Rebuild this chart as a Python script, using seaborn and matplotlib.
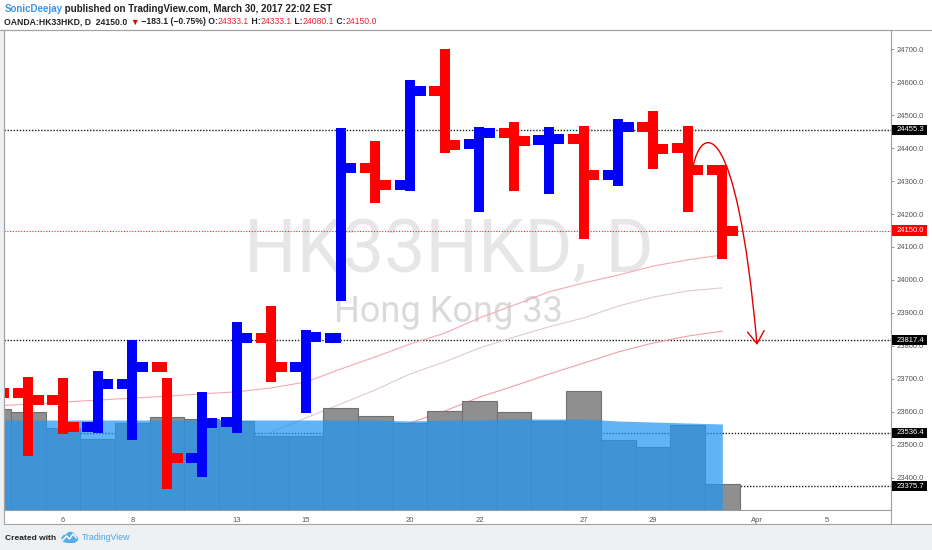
import matplotlib
matplotlib.use("Agg")
import numpy as np
import pandas as pd
import matplotlib.pyplot as plt
import seaborn as sns
from matplotlib.path import Path
from matplotlib.patches import FancyArrowPatch, Rectangle, Circle
from matplotlib.transforms import blended_transform_factory

# ---------------- data ----------------
session_dates = list(pd.bdate_range("2017-03-02", "2017-04-07").strftime("%Y-%m-%d"))
bar_dates = ["2017-03-02", "2017-03-03", "2017-03-06", "2017-03-07", "2017-03-08", "2017-03-09",
             "2017-03-10", "2017-03-13", "2017-03-14", "2017-03-15", "2017-03-16", "2017-03-17",
             "2017-03-20", "2017-03-21", "2017-03-22", "2017-03-23", "2017-03-24", "2017-03-27",
             "2017-03-28", "2017-03-29", "2017-03-30", "2017-03-31"]
opens = [23690, 23658, 23636, 23555, 23685, 23736, 23461, 23570, 23824, 23736, 23824,
         24339, 24288, 24573, 24412, 24445, 24424, 24427, 24318, 24464, 24400, 24333.1]
highs = [23720, 23691, 23688, 23709, 23803, 23688, 23646, 23858, 23906, 23833, 24446,
         24406, 24591, 24685, 24449, 24464, 24449, 24452, 24473, 24497, 24452, 24333.1]
lows = [23620, 23482, 23548, 23551, 23530, 23382, 23418, 23551, 23706, 23612, 23951,
        24248, 24285, 24400, 24221, 24285, 24276, 24139, 24300, 24351, 24221, 24080.1]
closes = [23658, 23636, 23555, 23685, 23736, 23461, 23567, 23824, 23736, 23827, 24339,
          24288, 24573, 24409, 24445, 24421, 24426, 24318, 24464, 24397, 24333.1, 24150.0]
volumes = [101, 98, 82, 71, 87, 93, 91, 89, 74, 74, 102, 94, 87, 99, 109, 98, 89, 119, 70, 63, 85, 26]
volume_ma = [90, 90, 90, 90, 90, 90, 90, 90, 90, 90, 90, 90, 89, 90, 90, 91, 91, 91, 89, 88, 87, 86]
ma_fast = [23618, 23624, 23630, 23636, 23642, 23648, 23655, 23661, 23673, 23691, 23730,
           23767, 23806, 23839, 23885, 23924, 23964, 23991, 24015, 24042, 24061, 24076]
ma_mid = [23424, 23430, 23439, 23448, 23461, 23470, 23485, 23506, 23539, 23582, 23624,
          23667, 23715, 23752, 23794, 23827, 23858, 23885, 23921, 23948, 23967, 23976]
ma_slow = [23376, 23382, 23388, 23394, 23400, 23406, 23415, 23424, 23433, 23452, 23479,
           23521, 23567, 23603, 23645, 23679, 23715, 23748, 23782, 23809, 23830, 23845]
level_lines = [24455.3, 23817.4, 23536.4, 23375.7]
last_price = 24150.0
price_ticks = [23400, 23500, 23600, 23700, 23800, 23900, 24000, 24100, 24200, 24300,
               24400, 24500, 24600, 24700]
time_tick_dates = ["2017-03-06", "2017-03-08", "2017-03-13", "2017-03-15", "2017-03-20",
                   "2017-03-22", "2017-03-27", "2017-03-29", "2017-04-03", "2017-04-05"]
time_tick_labels = ["6", "8", "13", "15", "20", "22", "27", "29", "Apr", "5"]
# hand-drawn arrow anchor points (session index, price)
arrow_pts = [(20.16, 24345), (20.40, 24470), (21.40, 24505), (22.0, 23803)]

# ---------------- layout ----------------
W, H = 932, 550
sns.set_style("white")
FAM = ['Liberation Sans', 'DejaVu Sans']
plt.rcParams['font.family'] = FAM

fig = plt.figure(figsize=(W / 100, H / 100), dpi=100, facecolor='#eef1f4')


def fx(px):
    return px / W


def fy(py):
    return 1 - py / H


fig.patches.append(Rectangle((0, fy(29)), 1, 29 / H, transform=fig.transFigure,
                             facecolor='white', edgecolor='none', zorder=-5))
fig.patches.append(Rectangle((fx(4), fy(524)), 1 - fx(4), (524 - 29) / H, transform=fig.transFigure,
                             facecolor='white', edgecolor='none', zorder=-5))
FRAME = '#a3a3a3'
fig.lines.append(plt.Line2D([0, 1], [fy(29.5), fy(29.5)], transform=fig.transFigure, color=FRAME, lw=0.8))
fig.lines.append(plt.Line2D([fx(4), 1], [fy(524), fy(524)], transform=fig.transFigure, color=FRAME, lw=0.8))
fig.lines.append(plt.Line2D([fx(4), fx(4)], [fy(524), fy(29.5)], transform=fig.transFigure, color=FRAME, lw=0.8))
fig.lines.append(plt.Line2D([fx(891), fx(891)], [fy(524), fy(510)], transform=fig.transFigure, color=FRAME, lw=0.8))

rect = [fx(4), fy(510), fx(891) - fx(4), (510 - 30) / H]
ax_bg = fig.add_axes(rect)
ax_vol = fig.add_axes(rect)
ax = fig.add_axes(rect)

pos = np.array([session_dates.index(d) for d in bar_dates], dtype=float)
XLIM = (0.30, 25.86)
YLIM = (23303.0, 24757.6)

# ---- background layer: levels, MAs, watermark ----
ax_bg.set_facecolor('white')
for lvl in level_lines:
    ax_bg.axhline(lvl, color='#1e1e1e', lw=1.0, linestyle=(0, (1, 1.2)), zorder=1)
ax_bg.axhline(last_price, color='#ff2020', lw=0.8, linestyle=(0, (1, 1.5)), zorder=1)
sns.lineplot(x=pos, y=ma_fast, ax=ax_bg, color='#f5a8b3', linewidth=0.8, zorder=2)
sns.lineplot(x=pos, y=ma_mid, ax=ax_bg, color='#dccbd0', linewidth=0.8, zorder=2)
sns.lineplot(x=pos, y=ma_slow, ax=ax_bg, color='#f29ea9', linewidth=0.8, zorder=2)
ax_bg.text(0.501, 0.494, "HK33HKD, D", transform=ax_bg.transAxes, ha='center', va='baseline',
           fontsize=53, family=['Roboto', 'DejaVu Sans'], color='#e6e6e6', zorder=0)
ax_bg.text(0.501, 0.392, "Hong Kong 33", transform=ax_bg.transAxes, ha='center', va='baseline',
           fontsize=26, family=['Roboto', 'DejaVu Sans'], color='#dadada', zorder=0)
ax_bg.set_xlim(*XLIM)
ax_bg.set_ylim(*YLIM)
ax_bg.set_xticks([])
ax_bg.set_yticks([])
ax_bg.set_xlabel("")
ax_bg.set_ylabel("")
for s in ax_bg.spines.values():
    s.set_visible(False)

# ---- volume layer ----
vol_df = pd.DataFrame({'pos': pos, 'volume': volumes})
sns.barplot(data=vol_df, x='pos', y='volume', native_scale=True, orient='x', width=1.0,
            color='#8f8f8f', saturation=1, edgecolor='#707070', linewidth=0.8,
            errorbar=None, ax=ax_vol)
ax_vol.fill_between(pos, 0, volume_ma, color='#2196f3', alpha=0.72, linewidth=0, zorder=3)
ax_vol.set_xlim(*XLIM)
ax_vol.set_ylim(0, 480)
ax_vol.axis('off')
ax_vol.patch.set_alpha(0)

# ---- price bars ----
ax.patch.set_alpha(0)
bar_colors = ['#0000ff' if c >= o else '#ff0000' for o, c in zip(opens, closes)]
BAR_LW = 7.2
TICK = 0.447
vl = ax.vlines(pos, lows, highs, colors=bar_colors, linewidth=BAR_LW, zorder=3)
vl.set_capstyle('projecting')
ax.hlines(opens, pos - TICK, pos, colors=bar_colors, linewidth=BAR_LW, zorder=3)
ax.hlines(closes, pos, pos + TICK, colors=bar_colors, linewidth=BAR_LW, zorder=3)

arrow_path = Path(arrow_pts, [Path.MOVETO, Path.CURVE4, Path.CURVE4, Path.CURVE4])
ax.add_patch(FancyArrowPatch(path=arrow_path, arrowstyle='->,head_length=0.45,head_width=0.3',
                             mutation_scale=20, color='#e00000', lw=1.0, zorder=5))

ax.set_xlim(*XLIM)
ax.set_ylim(*YLIM)
ax.yaxis.tick_right()
ax.set_yticks(price_ticks)
ax.set_yticklabels([f"{t:.1f}" for t in price_ticks])
ax.set_xticks([session_dates.index(d) for d in time_tick_dates])
ax.set_xticklabels(time_tick_labels)
ax.tick_params(axis='y', length=2.2, width=0.7, color='#9c9c9c', labelsize=5.5,
               labelcolor='#555555', pad=2)
ax.tick_params(axis='x', length=2.2, width=0.7, color='#9c9c9c', labelsize=5.5,
               labelcolor='#555555', pad=2.6)
for s in ax.spines.values():
    s.set_color('#9c9c9c')
    s.set_linewidth(0.8)

# price labels on the right axis
blend = blended_transform_factory(ax.transAxes, ax.transData)
half = 15.2
for lvl, fc in [(l, '#000000') for l in level_lines] + [(last_price, '#ff0000')]:
    ax.add_patch(Rectangle((1.0011, lvl - half), 0.0395, 2 * half, transform=blend,
                           facecolor=fc, edgecolor='none', clip_on=False, zorder=10))
    ax.text(1.0068, lvl, f"{lvl:.1f}", transform=blend, ha='left', va='center',
            fontsize=5.5, color='white', clip_on=False, zorder=11)

# ---------------- header / footer ----------------
renderer = fig.canvas.get_renderer()


def text_width(s, size, weight):
    if not s:
        return 0.0
    t1 = fig.text(0, 0, s + "x", fontsize=size, fontweight=weight, family=FAM)
    t2 = fig.text(0, 0, "x", fontsize=size, fontweight=weight, family=FAM)
    w = t1.get_window_extent(renderer).width - t2.get_window_extent(renderer).width
    t1.remove()
    t2.remove()
    return w


def draw_segments(x_px, y_px, segs, size):
    x = x_px
    for s, col, weight in segs:
        fig.text(fx(x), fy(y_px), s, color=col, fontsize=size, fontweight=weight,
                 family=FAM, ha='left', va='baseline')
        x += text_width(s, size, weight)


DARK = '#222222'
RED = '#e8262b'
draw_segments(4.5, 11.5, [("SonicDeejay", '#3b95e6', 'bold'),
                          (" published on TradingView.com, March 30, 2017 22:02 EST", DARK, 'bold')],
              7.0)
draw_segments(4.5, 24.5, [("OANDA:HK33HKD, D  24150.0 ", DARK, 'bold'), ("\u25bc", '#c01010', 'normal'),
                          (" \u2212183.1 (\u22120.75%) O:", DARK, 'bold'), ("24333.1", RED, 'normal'),
                          (" H:", DARK, 'bold'), ("24333.1", RED, 'normal'),
                          (" L:", DARK, 'bold'), ("24080.1", RED, 'normal'),
                          (" C:", DARK, 'bold'), ("24150.0", RED, 'normal')],
              6.2)

fig.text(fx(5), fy(540.5), "Created with", fontsize=6.0, fontweight='bold', color=DARK,
         family=FAM, ha='left', va='baseline')
fig.text(fx(82), fy(540.5), "TradingView", fontsize=6.3, color='#4aa3e6',
         family=FAM, ha='left', va='baseline')
ax_logo = fig.add_axes([fx(60), fy(543), fx(79) - fx(60), 12 / H])
ax_logo.set_xlim(0, 19)
ax_logo.set_ylim(0, 12)
ax_logo.axis('off')
for cx, cy, r in [(5.5, 4.5, 4.0), (10.5, 6.5, 4.8), (14.8, 4.2, 3.4)]:
    ax_logo.add_patch(Circle((cx, cy), r, color='#5aaee8', lw=0))
ax_logo.add_patch(Rectangle((5.5, 0.5), 9.3, 4, color='#5aaee8', lw=0))
ax_logo.plot([2.5, 6.5, 9.5, 13, 16.5], [2.5, 7, 4, 9, 5], color='white', lw=1.0)

fig.savefig("out.png", dpi=100, facecolor=fig.get_facecolor())
